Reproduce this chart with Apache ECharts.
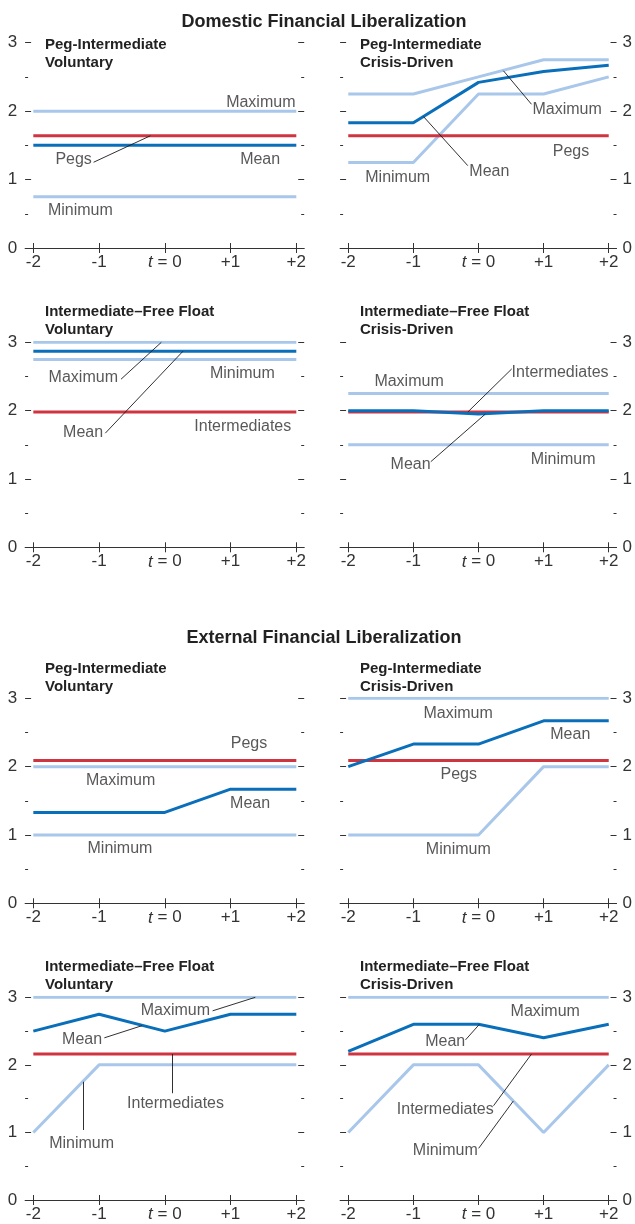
<!DOCTYPE html>
<html><head><meta charset="utf-8">
<script src="https://cdn.jsdelivr.net/npm/echarts@6/dist/echarts.min.js"></script>
<style>html,body{margin:0;padding:0;background:#fff}#c{width:635px;height:1224px}</style>
</head><body><div id="c"></div>
<script>
// ---------- data ----------
const periods = [-2, -1, 0, 1, 2];
const xTickLabels = ['-2', '-1', 't = 0', '+1', '+2'];
const yTickValues = [0, 1, 2, 3];
const sectionTitles = ['Domestic Financial Liberalization', 'External Financial Liberalization'];

// Domestic – Peg-Intermediate, Voluntary
const dPIVolMax  = [2.0, 2.0, 2.0, 2.0, 2.0];
const dPIVolMin  = [0.75, 0.75, 0.75, 0.75, 0.75];
const dPIVolPegs = [1.64, 1.64, 1.64, 1.64, 1.64];
const dPIVolMean = [1.5, 1.5, 1.5, 1.5, 1.5];
// Domestic – Peg-Intermediate, Crisis-Driven
const dPICriMax  = [2.25, 2.25, 2.5, 2.75, 2.75];
const dPICriMin  = [1.25, 1.25, 2.25, 2.25, 2.5];
const dPICriPegs = [1.64, 1.64, 1.64, 1.64, 1.64];
const dPICriMean = [1.83, 1.83, 2.42, 2.58, 2.67];
// Domestic – Intermediate–Free Float, Voluntary
const dIFVolMax  = [3.0, 3.0, 3.0, 3.0, 3.0];
const dIFVolMin  = [2.75, 2.75, 2.75, 2.75, 2.75];
const dIFVolInt  = [1.98, 1.98, 1.98, 1.98, 1.98];
const dIFVolMean = [2.87, 2.87, 2.87, 2.87, 2.87];
// Domestic – Intermediate–Free Float, Crisis-Driven
const dIFCriMax  = [2.25, 2.25, 2.25, 2.25, 2.25];
const dIFCriMin  = [1.5, 1.5, 1.5, 1.5, 1.5];
const dIFCriInt  = [1.98, 1.98, 1.98, 1.98, 1.98];
const dIFCriMean = [2.0, 2.0, 1.95, 2.0, 2.0];
// External – Peg-Intermediate, Voluntary
const ePIVolMax  = [2.0, 2.0, 2.0, 2.0, 2.0];
const ePIVolMin  = [1.0, 1.0, 1.0, 1.0, 1.0];
const ePIVolPegs = [2.09, 2.09, 2.09, 2.09, 2.09];
const ePIVolMean = [1.33, 1.33, 1.33, 1.67, 1.67];
// External – Peg-Intermediate, Crisis-Driven
const ePICriMax  = [3.0, 3.0, 3.0, 3.0, 3.0];
const ePICriMin  = [1.0, 1.0, 1.0, 2.0, 2.0];
const ePICriPegs = [2.09, 2.09, 2.09, 2.09, 2.09];
const ePICriMean = [2.0, 2.33, 2.33, 2.67, 2.67];
// External – Intermediate–Free Float, Voluntary
const eIFVolMax  = [3.0, 3.0, 3.0, 3.0, 3.0];
const eIFVolMin  = [1.0, 2.0, 2.0, 2.0, 2.0];
const eIFVolInt  = [2.16, 2.16, 2.16, 2.16, 2.16];
const eIFVolMean = [2.5, 2.75, 2.5, 2.75, 2.75];
// External – Intermediate–Free Float, Crisis-Driven
const eIFCriMax  = [3.0, 3.0, 3.0, 3.0, 3.0];
const eIFCriMin  = [1.0, 2.0, 2.0, 1.0, 2.0];
const eIFCriInt  = [2.16, 2.16, 2.16, 2.16, 2.16];
const eIFCriMean = [2.2, 2.6, 2.6, 2.4, 2.6];

// ---------- panels (annotation positions in data units) ----------
const panels = [
  {t: 'Peg-Intermediate\nVoluntary', row: 0, col: 0, max: dPIVolMax, min: dPIVolMin, ref: dPIVolPegs, mean: dPIVolMean,
   notes: [['Maximum', 1.46, 2.13], ['Mean', 1.45, 1.29], ['Pegs', -1.387, 1.29, [[-1.083, 1.253], [-0.22, 1.64]]], ['Minimum', -1.285, 0.54]]},
  {t: 'Peg-Intermediate\nCrisis-Driven', row: 0, col: 1, max: dPICriMax, min: dPICriMin, ref: dPICriPegs, mean: dPICriMean,
   notes: [['Maximum', 1.361, 2.02, [[0.814, 2.10], [0.383, 2.59]]], ['Mean', 0.167, 1.115, [[-0.164, 1.203], [-0.844, 1.92]]], ['Pegs', 1.42, 1.415], ['Minimum', -1.24, 1.03]]},
  {t: 'Intermediate\u2013Free Float\nVoluntary', row: 1, col: 0, max: dIFVolMax, min: dIFVolMin, ref: dIFVolInt, mean: dIFVolMean,
   notes: [['Maximum', -1.24, 2.48, [[-0.666, 2.46], [-0.053, 3.0]]], ['Mean', -1.243, 1.68, [[-0.905, 1.67], [0.277, 2.87]]], ['Minimum', 1.18, 2.54], ['Intermediates', 1.186, 1.77]]},
  {t: 'Intermediate\u2013Free Float\nCrisis-Driven', row: 1, col: 1, max: dIFCriMax, min: dIFCriMin, ref: dIFCriInt, mean: dIFCriMean,
   notes: [['Maximum', -1.066, 2.43], ['Intermediates', 1.253, 2.56, [[0.51, 2.61], [-0.164, 1.98]]], ['Mean', -1.043, 1.217, [[-0.732, 1.253], [0.105, 1.95]]], ['Minimum', 1.3, 1.285]]},
  {t: 'Peg-Intermediate\nVoluntary', row: 2, col: 0, max: ePIVolMax, min: ePIVolMin, ref: ePIVolPegs, mean: ePIVolMean,
   notes: [['Pegs', 1.28, 2.33], ['Maximum', -0.672, 1.79], ['Mean', 1.297, 1.466], ['Minimum', -0.682, 0.8]]},
  {t: 'Peg-Intermediate\nCrisis-Driven', row: 2, col: 1, max: ePICriMax, min: ePICriMin, ref: ePICriPegs, mean: ePICriMean,
   notes: [['Maximum', -0.312, 2.78], ['Mean', 1.41, 2.47], ['Pegs', -0.304, 1.886], ['Minimum', -0.31, 0.79]]},
  {t: 'Intermediate\u2013Free Float\nVoluntary', row: 3, col: 0, max: eIFVolMax, min: eIFVolMin, ref: eIFVolInt, mean: eIFVolMean,
   notes: [['Maximum', 0.16, 2.8, [[0.727, 2.8], [1.376, 3.0]]], ['Mean', -1.258, 2.38, [[-0.92, 2.4], [-0.347, 2.58]]], ['Intermediates', 0.163, 1.42, [[0.109, 1.58], [0.109, 2.16]]], ['Minimum', -1.265, 0.84, [[-1.244, 1.036], [-1.244, 1.75]]]]},
  {t: 'Intermediate\u2013Free Float\nCrisis-Driven', row: 3, col: 1, max: eIFCriMax, min: eIFCriMin, ref: eIFCriInt, mean: eIFCriMean,
   notes: [['Maximum', 1.025, 2.79], ['Mean', -0.511, 2.35, [[-0.199, 2.37], [0.014, 2.6]]], ['Intermediates', -0.51, 1.34, [[0.231, 1.395], [0.814, 2.16]]], ['Minimum', -0.51, 0.735, [[0.003, 0.765], [0.535, 1.465]]]]}
];

// ---------- layout & style ----------
const FONT = '"Liberation Sans", Arial, Helvetica, sans-serif';
const TXT = '#333333';
const LIGHT = '#a8c7ea', DARK = '#0a6fba', RED = '#cf3540';
const colLeft = [25.1, 340.1], gridW = 279.1;
const rowTop = [42.7, 342.3, 698.3, 997.3], rowBottom = [248, 547.3, 903.3, 1200];
const subX = [45, 360], subTop = [35.6, 302.3, 659.6, 957.3];
const titleTop = [13.1, 628.8], titleX = 324;
const X_MIN = -2.125, X_MAX = 2.12;

const pts = arr => periods.map((p, i) => [p, arr[i]]);
const xFmt = v => { const i = periods.indexOf(v); return i < 0 ? '' : xTickLabels[i].replace(/^t/, '{i|t}'); };

const grid = [], xAxis = [], yAxis = [], series = [], graphic = [];
sectionTitles.forEach((s, i) => graphic.push({type: 'text', x: titleX, y: titleTop[i], silent: true,
  style: {text: s, fill: '#222', font: 'bold 18px ' + FONT, align: 'center', verticalAlign: 'top'}}));

panels.forEach((p, gi) => {
  grid.push({left: colLeft[p.col], top: rowTop[p.row], width: gridW, height: rowBottom[p.row] - rowTop[p.row], containLabel: false});
  graphic.push({type: 'text', x: subX[p.col], y: subTop[p.row], silent: true,
    style: {text: p.t, fill: '#222', font: 'bold 15px ' + FONT, lineHeight: 18.3, align: 'left', verticalAlign: 'top'}});
  const xi = xAxis.length;
  xAxis.push({gridIndex: gi, type: 'value', min: X_MIN, max: X_MAX, position: 'bottom',
    axisLine: {show: true, onZero: false, lineStyle: {color: TXT, width: 1}},
    axisTick: {show: true, customValues: periods, length: 5, lineStyle: {color: TXT, width: 1}},
    axisLabel: {show: true, customValues: periods, formatter: xFmt, margin: 6, color: TXT, fontSize: 17, fontFamily: FONT,
      rich: {i: {fontStyle: 'italic', fontSize: 17, color: TXT, fontFamily: FONT}}},
    splitLine: {show: false}});
  xAxis.push({gridIndex: gi, type: 'value', min: X_MIN, max: X_MAX, position: 'bottom', offset: 0,
    axisLine: {show: false, onZero: false},
    axisTick: {show: true, inside: true, customValues: periods, length: 5, lineStyle: {color: TXT, width: 1}},
    axisLabel: {show: false}, splitLine: {show: false}});
  const yi = yAxis.length;
  ['left', 'right'].forEach(pos => {
    const showLab = (pos === 'left') === (p.col === 0);
    yAxis.push({gridIndex: gi, type: 'value', min: 0, max: 3, interval: 1, position: pos, offset: 0,
      axisLine: {show: false, onZero: false},
      axisTick: {show: true, inside: true, length: 6, lineStyle: {color: TXT, width: 1}},
      minorTick: {show: true, splitNumber: 2, length: 3, lineStyle: {color: TXT, width: 1}},
      axisLabel: {show: showLab, margin: pos === 'left' ? 8 : 6, color: TXT, fontSize: 17, fontFamily: FONT,
        customValues: yTickValues},
      splitLine: {show: false}, minorSplitLine: {show: false}});
  });
  const line = (arr, color, z) => ({type: 'line', xAxisIndex: xi, yAxisIndex: yi, data: pts(arr), symbol: 'none',
    lineStyle: {color, width: 3}, z, silent: true, animation: false});
  series.push(line(p.max, LIGHT, 2), line(p.min, LIGHT, 2), line(p.ref, RED, 3), line(p.mean, DARK, 4));
  const leaders = p.notes.filter(n => n[3]).map(n => [{coord: n[3][0]}, {coord: n[3][1]}]);
  series.push({type: 'scatter', xAxisIndex: xi, yAxisIndex: yi, symbolSize: 1, z: 6, silent: true, animation: false,
    itemStyle: {color: 'rgba(0,0,0,0)'},
    data: p.notes.map(n => ({value: [n[1], n[2]], name: n[0]})),
    label: {show: true, position: 'inside', formatter: '{b}', align: 'center', verticalAlign: 'middle',
      color: '#2e2e2e', fontSize: 16, fontFamily: FONT},
    markLine: {silent: true, animation: false, symbol: ['none', 'none'], label: {show: false},
      lineStyle: {color: '#1a1a1a', width: 0.9, type: 'solid'}, emphasis: {disabled: true},
      data: leaders}});
});

const chart = echarts.init(document.getElementById('c'), null, {renderer: 'canvas'});
chart.setOption({animation: false, backgroundColor: '#fff', grid, xAxis, yAxis, series, graphic});
</script>
</body></html>
